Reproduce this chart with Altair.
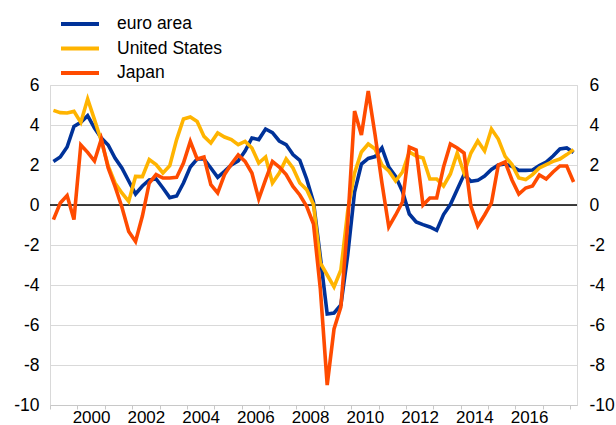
import altair as alt
import pandas as pd

# Quarterly year-on-year growth, 1999Q1 - 2018Q1 (77 quarters)
first_year = 1999
euro_area = [2.18, 2.4, 2.9, 3.93, 4.13, 4.47, 3.85, 3.35, 3.0, 2.35, 1.85, 1.2,
             0.55, 0.95, 1.25, 1.3, 0.85, 0.37, 0.45, 1.1, 1.9, 2.3, 2.3, 1.85,
             1.38, 1.68, 2.0, 2.2, 2.7, 3.35, 3.27, 3.8, 3.62, 3.2, 3.02, 2.52,
             2.23, 1.3, 0.15, -2.6, -5.45, -5.4, -5.0, -2.5, 0.65, 2.05, 2.33, 2.42,
             2.85, 1.9, 1.43, 0.68, -0.45, -0.85, -0.98, -1.1, -1.27, -0.48, 0.02, 0.77,
             1.52, 1.18, 1.23, 1.45, 1.78, 2.0, 2.05, 1.93, 1.73, 1.73, 1.75, 1.97,
             2.15, 2.45, 2.8, 2.85, 2.62]
united_states = [4.73, 4.62, 4.6, 4.68, 4.13, 5.3, 4.27, 3.2, 1.95, 1.1, 0.6, 0.18,
                 1.43, 1.42, 2.27, 2.02, 1.6, 1.97, 3.27, 4.3, 4.4, 4.18, 3.43, 3.1,
                 3.6, 3.4, 3.27, 3.02, 3.18, 2.85, 2.1, 2.4, 1.1, 1.6, 2.3, 1.85,
                 1.1, 0.77, 0.02, -2.9, -3.5, -4.1, -3.25, -0.3, 1.6, 2.65, 3.05, 2.8,
                 2.0, 1.7, 1.2, 1.65, 2.65, 2.45, 2.35, 1.3, 1.3, 0.95, 1.55, 2.6,
                 1.6, 2.6, 3.2, 2.7, 3.8, 3.3, 2.43, 2.02, 1.35, 1.27, 1.52, 1.85,
                 2.02, 2.18, 2.3, 2.52, 2.77]
japan = [-0.73, 0.1, 0.47, -0.73, 3.0, 2.63, 2.2, 3.3, 1.85, 0.93, -0.1, -1.32,
         -1.82, -0.55, 1.1, 1.52, 1.35, 1.35, 1.38, 2.1, 3.18, 2.3, 2.4, 1.02,
         0.6, 1.52, 2.05, 2.5, 2.18, 1.6, 0.3, 1.27, 2.18, 1.9, 1.52, 0.93,
         0.5, -0.07, -0.95, -4.2, -9.0, -6.2, -5.1, -0.9, 4.7, 3.5, 5.7, 3.5,
         1.1, -1.1, -0.5, 0.15, 2.9, 2.75, 0.0, 0.35, 0.35, 1.9, 3.05, 2.85,
         2.6, -0.05, -1.05, -0.5, 0.1, 2.0, 2.15, 1.25, 0.55, 0.85, 0.95, 1.5,
         1.3, 1.65, 1.95, 1.95, 1.15]

series_names = ["euro area", "United States", "Japan"]
series_colors = ["#003299", "#FFB400", "#FF4B00"]
y_ticks = list(range(-10, 7, 2))
x_year_ticks = list(range(1999, 2019))
x_year_labels = list(range(2000, 2017, 2))

rows = []
for name, vals in zip(series_names, [euro_area, united_states, japan]):
    for i, v in enumerate(vals):
        rows.append({"t": first_year + (i + 0.5) / 4, "series": name, "value": v})
df = pd.DataFrame(rows)
zero_df = pd.DataFrame({"value": [0]})

FONT = "Liberation Sans, Arial, sans-serif"
FS = 17.5

yscale = alt.Scale(domain=[-10, 6], nice=False, zero=False)
xscale = alt.Scale(domain=[1999, 2018.25], nice=False, zero=False)

label_list = ",".join(str(v) for v in x_year_labels)
x_axis = alt.Axis(values=x_year_ticks, title=None, grid=False,
                  labelExpr=f"indexof([{label_list}], datum.value) >= 0 ? toString(datum.value) : ''",
                  labelOffset=13.7, labelFlush=False, labelOverlap=False,
                  tickSize=4, tickColor="#c8c8c8", domainColor="#c8c8c8",
                  labelFontSize=17, labelFont=FONT, labelColor="#000000", labelPadding=0)

y_label_expr = "toString(datum.value)"
left_axis = alt.Axis(values=y_ticks, title=None, grid=True, gridColor="#d9d9d9",
                     gridWidth=1, ticks=False, domain=False, labelPadding=11,
                     labelExpr=y_label_expr,
                     labelFontSize=FS, labelFont=FONT, labelColor="#000000")
right_axis = alt.Axis(values=y_ticks, title=None, grid=False, orient="right",
                      ticks=False, domain=False, labelPadding=12,
                      labelExpr=y_label_expr,
                      labelFontSize=FS, labelFont=FONT, labelColor="#000000")

color = alt.Color("series:N",
                  scale=alt.Scale(domain=series_names, range=series_colors),
                  legend=alt.Legend(title=None, orient="none", legendX=9, legendY=-70,
                                    symbolType="stroke", symbolSize=1444,
                                    symbolStrokeWidth=4, clipHeight=18,
                                    rowPadding=6.5, labelOffset=16, padding=0,
                                    labelFontSize=FS, labelFont=FONT,
                                    labelColor="#000000"))

zero_rule = alt.Chart(zero_df).mark_rule(color="black", strokeWidth=1.5).encode(
    y=alt.Y("value:Q", scale=yscale, axis=right_axis))

base = alt.Chart(df).mark_line(strokeWidth=3.6).encode(
    x=alt.X("t:Q", scale=xscale, axis=x_axis),
    color=color)

layers = [zero_rule]
for k, name in enumerate(series_names):
    ax = left_axis if k == 0 else None
    layers.append(base.transform_filter(alt.datum.series == name).encode(
        y=alt.Y("value:Q", scale=yscale, axis=ax)))

chart = alt.layer(*layers).resolve_axis(y="independent").properties(
    width=527, height=320,
    autosize=alt.AutoSizeParams(type="none"),
    padding={"left": 50, "right": 39, "top": 85, "bottom": 20},
).configure_view(stroke="#d9d9d9")

chart.save("out.html", embed_options={"renderer": "svg", "actions": False})
